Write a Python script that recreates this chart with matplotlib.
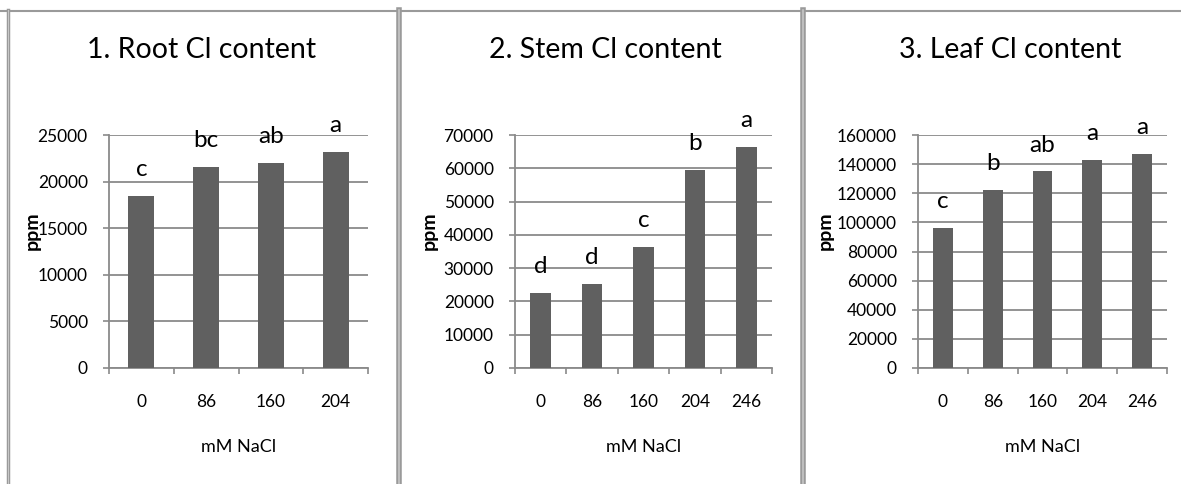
import matplotlib.pyplot as plt
from matplotlib.lines import Line2D

plt.rcParams['font.family'] = ['Lato', 'DejaVu Sans']

# data
root_conc = ["0", "86", "160", "204"]
root_ppm = [18500, 21550, 22000, 23150]
root_letters = ["c", "bc", "ab", "a"]

stem_conc = ["0", "86", "160", "204", "246"]
stem_ppm = [22500, 25300, 36300, 59500, 66500]
stem_letters = ["d", "d", "c", "b", "a"]

leaf_conc = ["0", "86", "160", "204", "246"]
leaf_ppm = [96300, 122500, 135000, 143000, 147000]
leaf_letters = ["c", "b", "ab", "a", "a"]

panels = [
    ("1. Root Cl content", root_conc, root_ppm, root_letters, 25000, 5000),
    ("2. Stem Cl content", stem_conc, stem_ppm, stem_letters, 70000, 10000),
    ("3. Leaf Cl content", leaf_conc, leaf_ppm, leaf_letters, 160000, 20000),
]

W, H = 1181, 484
fig = plt.figure(figsize=(W / 100, H / 100), dpi=100)

# axes boxes in pixels: left, right, top, bottom
boxes = [(109, 368, 135, 368), (515, 772, 135, 368), (918, 1167, 135, 368)]
ylab_x = [32, 429, 825]
title_x = [202, 605, 1010]

bar_col = "#606060"
axis_col = "#8a8a8a"

for (title, cats, vals, letters, ymax, ystep), (l, r, t, b), yx, tx in zip(panels, boxes, ylab_x, title_x):
    ax = fig.add_axes([l / W, 1 - b / H, (r - l) / W, (b - t) / H])
    x = range(len(cats))
    ax.bar(x, vals, width=0.4, color=bar_col, zorder=3)
    ax.set_xlim(-0.5, len(cats) - 0.5)
    ax.set_ylim(0, ymax)
    ax.set_yticks(range(0, ymax + 1, ystep))
    ax.set_xticks(list(x))
    ax.set_xticklabels(cats)
    ax.set_xticks([i - 0.5 for i in range(len(cats) + 1)], minor=True)
    ax.tick_params(axis='x', which='major', length=0, pad=18.5, labelsize=12.5)
    ax.tick_params(axis='x', which='minor', length=4.3, width=1.2, color=axis_col, direction='out')
    ax.tick_params(axis='y', length=4.3, width=1.2, color=axis_col, pad=11, labelsize=12.5)
    ax.grid(axis='y', color=axis_col, linewidth=1.3, zorder=0)
    for s in ['top', 'right']:
        ax.spines[s].set_visible(False)
    for s in ['left', 'bottom']:
        ax.spines[s].set_color(axis_col)
        ax.spines[s].set_linewidth(1.3)
    for xi, v, let in zip(x, vals, letters):
        ax.annotate(let, (xi, v), xytext=(0, 19), textcoords='offset points',
                    ha='center', va='center', fontsize=17.5)
    ax.set_xlabel("mM NaCl", fontsize=13)
    ax.xaxis.label.set_va('center')
    ax.xaxis.set_label_coords(0.5, (b - 447) / (b - t))
    ax.set_ylabel("ppm", fontsize=14, fontweight='bold')
    ax.yaxis.label.set_va('center')
    ax.yaxis.set_label_coords((yx - l) / (r - l), (b - 231) / (b - t))
    fig.text(tx / W, 1 - 50 / H, title, ha='center', va='center', fontsize=20.5)

# panel frames
frame_col = "#9a9a9a"
fig.add_artist(Line2D([0, 1], [1 - 10.5 / H] * 2, color=frame_col, linewidth=1.5))
for px, lw in [(8, 2.5), (398.5, 4), (802.5, 4)]:
    fig.add_artist(Line2D([px / W] * 2, [0, 1 - 10 / H], color=frame_col, linewidth=lw))
    fig.add_artist(Line2D([px / W] * 2, [0, 1 - 10 / H], color="#c8c8c8", linewidth=lw / 3.5))

fig.savefig("out.png", dpi=100)
